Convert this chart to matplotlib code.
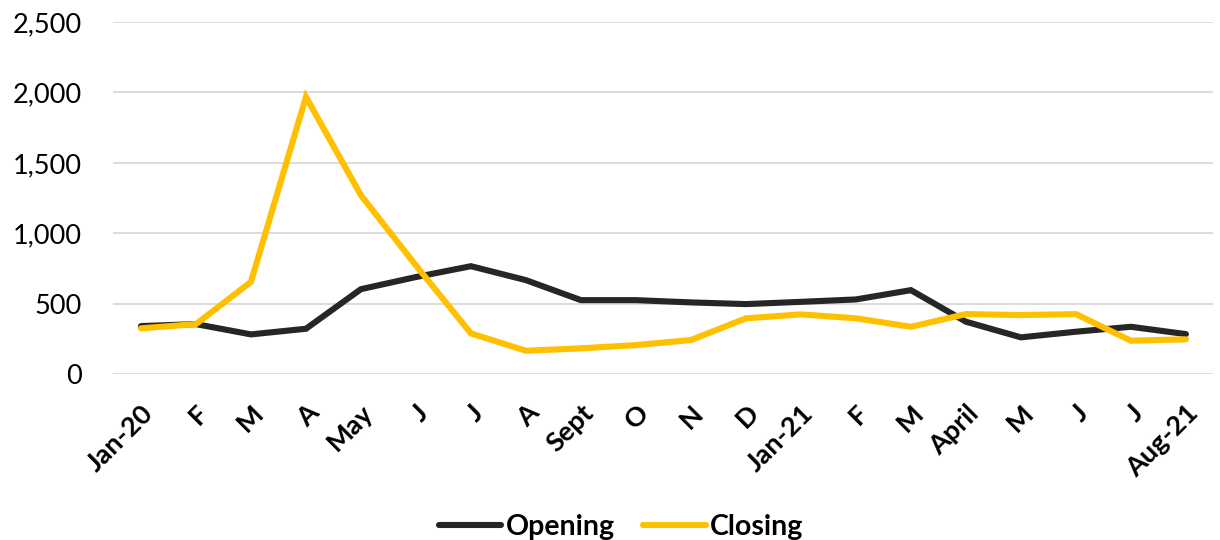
import matplotlib.pyplot as plt
from matplotlib.ticker import FuncFormatter

months = ["Jan-20", "F", "M", "A", "May", "J", "J", "A", "Sept", "O", "N", "D",
          "Jan-21", "F", "M", "April", "M", "J", "J", "Aug-21"]
opening = [342, 356, 283, 323, 604, 690, 767, 668, 526, 526, 510, 498,
           514, 531, 597, 373, 262, 302, 337, 285]
closing = [326, 356, 656, 1968, 1270, 772, 290, 167, 184, 207, 243, 397,
           425, 397, 337, 427, 420, 427, 238, 248]

plt.rcParams["font.family"] = ["Lato", "DejaVu Sans"]

fig = plt.figure(figsize=(12.2, 5.4), dpi=100)
ax = fig.add_axes([0.093, 0.3069, 0.9016, 0.6524])

x = range(len(months))
ax.plot(x, opening, color="#262626", lw=4.4, solid_capstyle="round",
        solid_joinstyle="miter", label="Opening")
ax.plot(x, closing, color="#FFC000", lw=4.4, solid_capstyle="round",
        solid_joinstyle="miter", label="Closing")

ax.set_xlim(-0.5, len(months) - 0.5)
ax.set_ylim(0, 2500)
ax.set_yticks(range(0, 2501, 500))
ax.yaxis.set_major_formatter(FuncFormatter(lambda v, _: f"{v:,.0f}"))
ax.grid(axis="y", color="#D9D9D9", lw=1.3)
ax.set_axisbelow(True)
for s in ax.spines.values():
    s.set_visible(False)

ax.set_xticks(list(x))
ax.set_xticklabels(months, rotation=45, ha="right", va="top",
                   rotation_mode="anchor", fontweight="bold", fontsize=19.5,
                   color="#000000")
ax.tick_params(axis="x", length=0, pad=19)
ax.tick_params(axis="y", length=0, pad=23, labelsize=19.5, labelcolor="#000000")

ax.legend(loc="upper center", bbox_to_anchor=(0.509, 0.095),
          bbox_transform=fig.transFigure, ncol=2, frameon=False,
          prop={"weight": "bold", "size": 20.5},
          handlelength=2.2, handletextpad=0.15, columnspacing=1.0)

fig.savefig("out.png")
